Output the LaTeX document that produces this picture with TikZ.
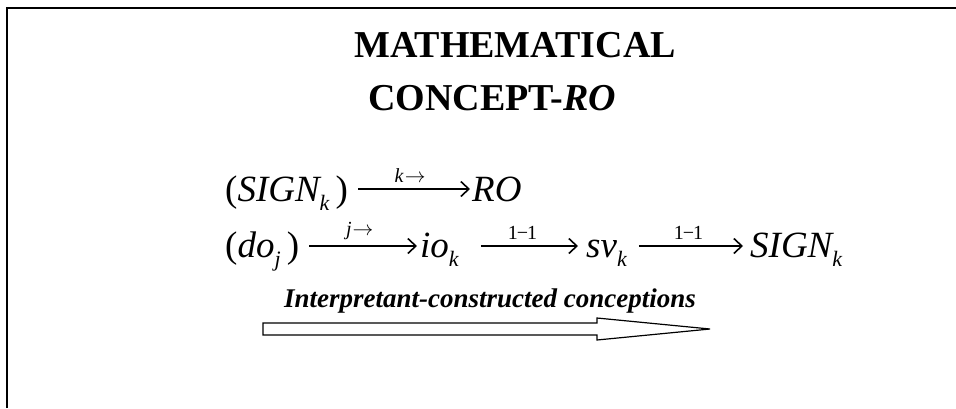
\documentclass[tikz,border=0pt]{standalone}
\usepackage{fontspec}
\setmainfont{Liberation Serif}
\usetikzlibrary{arrows.meta}

\newcommand\ttlfnt{\fontsize{38}{40}\selectfont\bfseries}
\newcommand\eqfnt{\fontsize{37}{40}\selectfont\itshape}
\newcommand\lblfnt{\fontsize{20}{22}\selectfont}
\newcommand\upr[1]{\textup{#1}}
\newcommand\subk[1]{\raisebox{-9pt}{\fontsize{22}{24}\selectfont\itshape #1}}
\newcommand\tagarr{\kern1pt\(\rightarrow\)}

\begin{document}
\begin{tikzpicture}[x=1pt, y=-1pt,
    txt/.style={inner sep=0pt, anchor=base west},
    link/.style={-{Straight Barb[length=8pt,width=15pt,line width=1.6pt]}, line width=1.4pt},
    tag/.style={above=6pt, inner sep=0pt, font=\lblfnt}]
  \useasboundingbox (0,0) rectangle (956,408);
  % frame
  \draw[line width=1.6pt] (7,408) -- (7,8) -- (956,8);
  % title
  \node[txt] (ttl1) at (354,57) {\ttlfnt MATHEMATICAL};
  \node[txt] (ttl2) at (368,110) {\ttlfnt CONCEPT-\textit{RO}};
  % axis heights of the two rows
  \coordinate (ax1) at (0,189);
  \coordinate (ax2) at (0,246);
  % first row
  \node[txt] (sign1) at (225,201) {\eqfnt\upr{(}SIGN\subk{k}\,\upr{)}};
  \node[txt] (ro) at (472,201) {\eqfnt RO};
  \draw[link, shorten <=10pt, shorten >=2pt] (sign1.east |- ax1) -- node[tag]{\textit{k}\tagarr} (ro.west |- ax1);
  % second row
  \node[txt] (do) at (225,257) {\eqfnt\upr{(}do\subk{j}\,\upr{)}};
  \node[txt] (io) at (420,257) {\eqfnt io\subk{k}};
  \node[txt] (sv) at (586,257) {\eqfnt sv\subk{k}};
  \node[txt] (sign2) at (750,257) {\eqfnt SIGN\subk{k}};
  \draw[link, shorten <=10pt, shorten >=3pt] (do.east |- ax2) -- node[tag]{\textit{j}\tagarr} (io.west |- ax2);
  \draw[link, shorten <=22pt, shorten >=8pt] (io.east |- ax2) -- node[tag]{1\kern-1pt−\kern-1pt1} (sv.west |- ax2);
  \draw[link, shorten <=12pt, shorten >=7pt] (sv.east |- ax2) -- node[tag]{1\kern-1pt−\kern-1pt1} (sign2.west |- ax2);
  % bottom caption and block arrow
  \node[txt] (cap) at (284,307) {\fontsize{27}{29}\selectfont\bfseries\itshape Interpretant-constructed conceptions};
  \draw[line width=1.2pt, line join=miter] (263,323) -- (597,323) -- (597,318) -- (710,329)
    -- (597,340) -- (597,335) -- (263,335) -- cycle;
\end{tikzpicture}
\end{document}
